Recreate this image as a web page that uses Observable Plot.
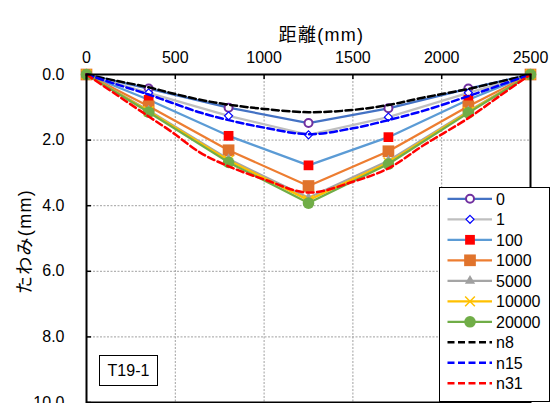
<!DOCTYPE html>
<html><head><meta charset="utf-8">
<script src="https://cdn.jsdelivr.net/npm/d3@7"></script>
<script src="https://cdn.jsdelivr.net/npm/@observablehq/plot@0.6"></script>
<style>
body{margin:0;background:#fff;}
#wrap{position:relative;width:552px;height:403px;overflow:hidden;font-family:"Liberation Sans","Noto Sans CJK JP",sans-serif;}
#legend{position:absolute;left:439px;top:187px;width:111px;height:215px;border:1px solid #000;background:#fff;box-sizing:border-box;}
#tag{position:absolute;left:99px;top:355px;width:59px;height:31px;border:1px solid #000;background:#fff;box-sizing:border-box;font-size:16px;text-align:center;line-height:29px;color:#000;}
</style></head><body><div id="wrap"></div>
<script>
// ---- data ----
const xMeasured = [0, 350, 800, 1250, 1700, 2150, 2500];
const seriesNames = ["0", "1", "100", "1000", "5000", "10000", "20000"];
const v0     = [0, 0.43, 1.01, 1.48, 1.03, 0.43, 0];
const v1     = [0, 0.56, 1.26, 1.84, 1.30, 0.56, 0];
const v100   = [0, 0.77, 1.87, 2.77, 1.91, 0.77, 0];
const v1000  = [0, 0.97, 2.31, 3.40, 2.34, 0.97, 0];
const v5000  = [0, 1.10, 2.58, 3.76, 2.63, 1.12, 0];
const v10000 = [0, 1.12, 2.62, 3.83, 2.68, 1.14, 0];
const v20000 = [0, 1.15, 2.68, 3.92, 2.73, 1.17, 0];

const xCalc = [0, 175, 350, 480, 640, 800, 1000, 1250, 1500, 1700, 1900, 2150, 2325, 2500];
const calcNames = ["n8", "n15", "n31"];
const n8  = [0, 0.20, 0.39, 0.57, 0.77, 0.92, 1.05, 1.15, 1.08, 0.93, 0.70, 0.44, 0.22, 0];
const n15 = [0, 0.31, 0.61, 0.86, 1.16, 1.39, 1.62, 1.82, 1.64, 1.39, 1.10, 0.66, 0.33, 0];
const n31 = [0, 0.64, 1.28, 1.75, 2.38, 2.80, 3.20, 3.60, 3.27, 2.86, 2.15, 1.33, 0.66, 0];

const xTicks = [0, 500, 1000, 1500, 2000, 2500];
const yTicks = [0, 2, 4, 6, 8, 10];
const xTitle = "距離(mm)";
const yTitle = "たわみ(mm)";
const tagText = "T19-1";

// ---- styles ----
const measuredValues = [v0, v1, v100, v1000, v5000, v10000, v20000];
const measuredStyle = [
  {line: "#4472C4", symbol: "circle",   r: 4,   fill: "white",   stroke: "#7030A0", sw: 2},
  {line: "#BFBFBF", symbol: "diamond2", r: 3.6, fill: "white",   stroke: "#0000FF", sw: 1.2},
  {line: "#5B9BD5", symbol: "square",   r: 5.5, fill: "#FF0000", stroke: "none",    sw: 0},
  {line: "#ED7D31", symbol: "square",   r: 6.6, fill: "#E0732C", stroke: "none",    sw: 0},
  {line: "#A5A5A5", symbol: "triangle", r: 3.8, fill: "#A0A0A0", stroke: "none",    sw: 0},
  {line: "#FFC000", symbol: "times",    r: 4.5, fill: "none",    stroke: "#FFC000", sw: 1.5},
  {line: "#70AD47", symbol: "circle",   r: 5.8, fill: "#70AD47", stroke: "none",    sw: 0}
];
const calcValues = [n8, n15, n31];
const calcColors = ["#000000", "#0000FF", "#FF0000"];
const dash = "7,3.5";

const font = '"Liberation Sans","Noto Sans CJK JP",sans-serif';

const marks = [
  Plot.gridX(xTicks.slice(1, -1), {stroke: "#a0a0a0", strokeOpacity: 1, strokeDasharray: "2,1.5"}),
  Plot.gridY(yTicks.slice(1, -1), {stroke: "#a0a0a0", strokeOpacity: 1, strokeDasharray: "2,1.5"}),
];
measuredValues.forEach((vals, i) => {
  const st = measuredStyle[i];
  const rows = xMeasured.map((x, j) => ({x, y: vals[j]}));
  marks.push(Plot.line(rows, {x: "x", y: "y", stroke: st.line, strokeWidth: 2.25}));
  marks.push(Plot.dot(rows, {x: "x", y: "y", symbol: st.symbol, r: st.r, fill: st.fill, stroke: st.stroke, strokeWidth: st.sw}));
});
calcValues.forEach((vals, i) => {
  const rows = xCalc.map((x, j) => ({x, y: vals[j]}));
  marks.push(Plot.line(rows, {x: "x", y: "y", stroke: calcColors[i], strokeWidth: 2.5, strokeDasharray: dash, curve: "catmull-rom"}));
});
marks.push(
  Plot.frame({stroke: "#000", strokeWidth: 2}),
  Plot.tickX(xTicks, {x: d => d, stroke: "#000", strokeWidth: 1.5, insetBottom: 323}),
  Plot.tickY(yTicks, {y: d => d, stroke: "#000", strokeWidth: 1.5, insetRight: 439}),
  Plot.axisX(xTicks, {anchor: "top", tickSize: 0, tickPadding: 12, label: null, fontSize: 16, tickFormat: d => String(d)}),
  Plot.axisY(yTicks, {anchor: "left", tickSize: 0, tickPadding: 22, label: null, fontSize: 16, tickFormat: d => d.toFixed(1)}),
  Plot.text([xTitle], {frameAnchor: "top", textAnchor: "middle", dx: 13, dy: -46, fontSize: 18, fill: "#000"}),
  Plot.text([yTitle], {frameAnchor: "left", textAnchor: "middle", rotate: -90, dx: -61, dy: 3, fontSize: 18, fill: "#000"})
);

const chart = Plot.plot({
  width: 552, height: 403,
  marginLeft: 86, marginRight: 22, marginTop: 74, marginBottom: 1,
  x: {domain: [0, 2500]},
  y: {domain: [0, 10], reverse: true},
  style: {fontFamily: font, fontSize: "16px", color: "#000", background: "white"},
  marks
});
d3.select(chart).selectAll("text")
  .filter(function() { return this.textContent === xTitle || this.textContent === yTitle; })
  .style("letter-spacing", "1.3px");
const wrap = document.getElementById("wrap");
wrap.appendChild(chart);

// tag box
const tag = document.createElement("div");
tag.id = "tag";
tag.textContent = tagText;
wrap.appendChild(tag);

// legend
const legend = d3.select(wrap).append("div").attr("id", "legend");
const lsvg = legend.append("svg").attr("width", 111).attr("height", 215)
  .style("position", "absolute").style("left", "-1px").style("top", "-1px");
const symMap = {circle: d3.symbolCircle, diamond2: d3.symbolDiamond2, square: d3.symbolSquare, triangle: d3.symbolTriangle, times: d3.symbolTimes};
const allNames = seriesNames.concat(calcNames);
allNames.forEach((name, i) => {
  const cy = 11.8 + 20.5 * i;
  const g = lsvg.append("g");
  if (i < seriesNames.length) {
    const st = measuredStyle[i];
    g.append("line").attr("x1", 8.5).attr("x2", 53).attr("y1", cy).attr("y2", cy)
      .attr("stroke", st.line).attr("stroke-width", 2.25);
    if (st.symbol === "circle") {
      g.append("circle").attr("cx", 31).attr("cy", cy).attr("r", st.r)
        .attr("fill", st.fill).attr("stroke", st.stroke).attr("stroke-width", st.sw);
    } else {
      g.append("path").attr("transform", `translate(31,${cy})`)
        .attr("d", d3.symbol(symMap[st.symbol], Math.PI * st.r * st.r)())
        .attr("fill", st.fill).attr("stroke", st.stroke).attr("stroke-width", st.sw);
    }
  } else {
    const c = calcColors[i - seriesNames.length];
    g.append("line").attr("x1", 8.5).attr("x2", 53).attr("y1", cy).attr("y2", cy)
      .attr("stroke", c).attr("stroke-width", 2.5).attr("stroke-dasharray", dash);
  }
  g.append("text").attr("x", 57).attr("y", cy).attr("dy", "0.36em")
    .attr("font-size", 16).attr("font-family", font).attr("fill", "#000").text(name);
});
</script></body></html>
